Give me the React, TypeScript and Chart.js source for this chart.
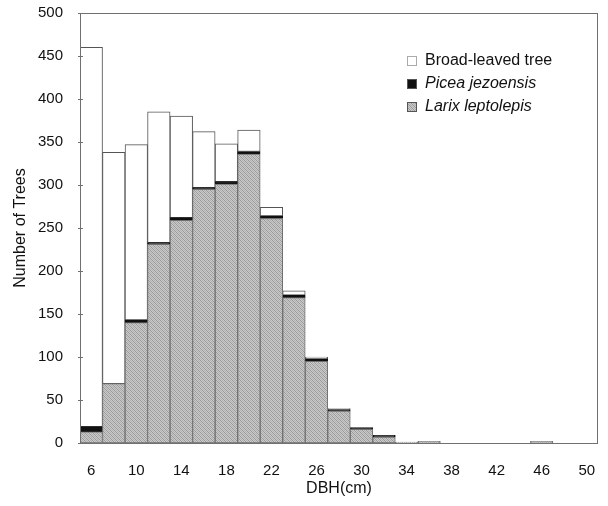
import React, { useEffect, useRef } from "react";
import { Chart, registerables } from "chart.js";

Chart.register(...registerables);

// DBH classes (cm), 2 cm wide
const dbhClasses = [6, 8, 10, 12, 14, 16, 18, 20, 22, 24, 26, 28, 30, 32, 34, 36, 38, 40, 42, 44, 46, 48, 50];

// Number of trees per class, by species group (stacked bottom to top)
const larixCounts = [13, 69, 140, 231, 259, 295, 301, 336, 261, 169, 95, 37, 16, 7, 1, 2, 0, 0, 0, 0, 2, 0, 0];
const piceaCounts = [6, 0, 3, 2, 3, 2, 3, 3, 3, 3, 3, 2, 2, 2, 0, 0, 0, 0, 0, 0, 0, 0, 0];
const broadleafCounts = [441, 269, 204, 152, 118, 65, 44, 25, 10, 5, 2, 1, 0, 0, 0, 0, 0, 0, 0, 0, 0, 0, 0];

const seriesNames = ["Broad-leaved tree", "Picea jezoensis", "Larix leptolepis"];
const seriesItalic = [false, true, true];

const FONT = "'Liberation Sans', Arial, sans-serif";

// fine grey hatching used for the larch bars
function makeHatch(): CanvasPattern | string {
  const c = document.createElement("canvas");
  c.width = 4;
  c.height = 4;
  const g = c.getContext("2d");
  if (!g) return "#b4b4b4";
  g.fillStyle = "#c9c9c9";
  g.fillRect(0, 0, 4, 4);
  g.fillStyle = "#999999";
  for (let i = 0; i < 4; i++) g.fillRect(i, i, 1, 1);
  g.fillStyle = "#b0b0b0";
  for (let i = 0; i < 4; i++) g.fillRect((i + 2) % 4, i, 1, 1);
  const p = g.createPattern(c, "repeat");
  return p || "#b4b4b4";
}

export default function App() {
  const canvasRef = useRef<HTMLCanvasElement | null>(null);

  useEffect(() => {
    const canvas = canvasRef.current;
    if (!canvas) return;
    const hatch = makeHatch();
    const legendFills: any[] = ["#ffffff", "#111111", hatch];

    const framePlugin = {
      id: "frame",
      afterDatasetsDraw(chart: any) {
        const { ctx, chartArea: a } = chart;
        ctx.save();
        ctx.strokeStyle = "#707070";
        ctx.lineWidth = 1;
        ctx.strokeRect(a.left + 0.5, a.top + 0.5, a.right - a.left - 1, a.bottom - a.top);
        // short tick marks on the value axis
        const y = chart.scales.y;
        y.ticks.forEach((t: any) => {
          const py = Math.round(y.getPixelForValue(t.value)) + 0.5;
          ctx.beginPath();
          ctx.moveTo(a.left - 2, py);
          ctx.lineTo(a.left + 3, py);
          ctx.stroke();
        });
        ctx.restore();
      },
    };

    const legendPlugin = {
      id: "insideLegend",
      afterDraw(chart: any) {
        const { ctx, chartArea: a } = chart;
        ctx.save();
        const x0 = a.right - 191;
        const y0 = a.top + 48;
        seriesNames.forEach((name, i) => {
          const cy = y0 + i * 23;
          ctx.fillStyle = legendFills[i];
          ctx.fillRect(x0, cy - 5, 10, 10);
          ctx.strokeStyle = i === 0 ? "#aaa" : "#555";
          ctx.lineWidth = 1;
          ctx.strokeRect(x0 + 0.5, cy - 4.5, 9, 9);
          ctx.fillStyle = "#111";
          ctx.font = `${seriesItalic[i] ? "italic " : ""}16px ${FONT}`;
          ctx.textBaseline = "middle";
          ctx.textAlign = "left";
          ctx.fillText(name, x0 + 18, cy);
        });
        ctx.restore();
      },
    };

    const chart = new Chart(canvas, {
      type: "bar",
      data: {
        labels: dbhClasses.map(String),
        datasets: [
          {
            label: seriesNames[2],
            data: larixCounts,
            backgroundColor: hatch as any,
            borderColor: "#707070",
            borderWidth: 1,
            borderSkipped: false,
          },
          {
            label: seriesNames[1],
            data: piceaCounts,
            backgroundColor: "#111111",
            borderColor: "#111111",
            borderWidth: 1,
            borderSkipped: false,
          },
          {
            label: seriesNames[0],
            data: broadleafCounts,
            backgroundColor: "#ffffff",
            borderColor: "#555555",
            borderWidth: 1,
            borderSkipped: false,
          },
        ],
      },
      options: {
        animation: false,
        responsive: false,
        devicePixelRatio: 1,
        layout: { padding: { top: 13, right: 10, left: 0, bottom: 0 } },
        plugins: {
          legend: { display: false },
          tooltip: { enabled: false },
        },
        scales: {
          x: {
            stacked: true,
            grid: { display: false, drawTicks: false },
            border: { display: false },
            ticks: {
              autoSkip: false,
              maxRotation: 0,
              padding: 19,
              color: "#111",
              font: { family: FONT, size: 15 },
              callback: (_v: any, i: number) => (i % 2 === 0 ? String(dbhClasses[i]) : ""),
            },
            title: {
              display: true,
              text: "DBH(cm)",
              color: "#111",
              font: { family: FONT, size: 16 },
              padding: { top: 0, bottom: 8 },
            },
            afterFit: (s: any) => {
              s.height = 63;
              s.paddingLeft = 0;
              s.paddingRight = 0;
            },
          },
          y: {
            stacked: true,
            min: 0,
            max: 500,
            grid: { display: false, drawTicks: false },
            border: { display: false },
            ticks: {
              stepSize: 50,
              padding: 17,
              color: "#111",
              font: { family: FONT, size: 15 },
            },
            title: {
              display: true,
              text: "Number of Trees",
              color: "#111",
              font: { family: FONT, size: 16 },
              padding: { top: 11, bottom: 0 },
            },
            afterFit: (s: any) => {
              s.width = 80;
              s.paddingTop = 0;
              s.paddingBottom = 0;
            },
          },
        },
        datasets: {
          bar: { categoryPercentage: 1, barPercentage: 1 },
        },
      } as any,
      plugins: [framePlugin, legendPlugin],
    });

    return () => chart.destroy();
  }, []);

  return (
    <div style={{ position: "fixed", left: 0, top: 0, width: 608, height: 506, background: "#fff" }}>
      <canvas ref={canvasRef} width={608} height={506} style={{ display: "block" }} />
    </div>
  );
}
